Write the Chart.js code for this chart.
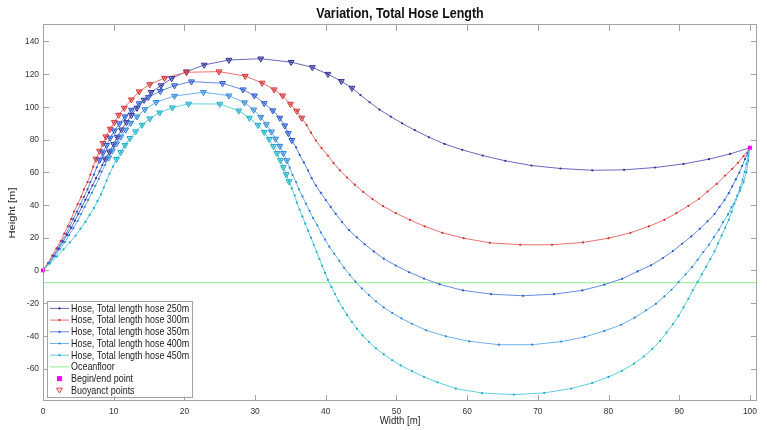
<!DOCTYPE html>
<html>
<head>
<meta charset="utf-8">
<title>Variation, Total Hose Length</title>
<script src="https://cdn.jsdelivr.net/npm/chart.js@4"></script>
<style>
  html, body { margin: 0; padding: 0; background: #ffffff; }
  #wrap { width: 767px; height: 430px; }
</style>
</head>
<body>
<div id="wrap"><canvas id="chart" width="767" height="430"></canvas></div>
<script>
// ---- data -------------------------------------------------------------
const chartTitle = 'Variation, Total Hose Length';
const xAxisTitle = 'Width [m]';
const yAxisTitle = 'Height [m]';
const xTickValues = [0, 10, 20, 30, 40, 50, 60, 70, 80, 90, 100];
const yTickValues = [-60, -40, -20, 0, 20, 40, 60, 80, 100, 120, 140];

const hoseLabels = [
  'Hose, Total length hose 250m',
  'Hose, Total length hose 300m',
  'Hose, Total length hose 350m',
  'Hose, Total length hose 400m',
  'Hose, Total length hose 450m'
];
const floorLabel = 'Oceanfloor';
const endsLabel = 'Begin/end point';
const buoyLabel = 'Buoyanct points';

// hose node positions [m]
const hose250X = [0,0.8,1.5,2.2,2.8,3.4,4.0,4.5,5.0,5.5, 6.0,6.5,7.0,7.5,8.0,8.4,8.8,9.4,10.0,10.5,
  11.1,11.8,12.5,13.3,14.3,15.3,16.7,18.2,20.3,22.8, 26.3,30.8,35.1,38.1,40.3,42.2,43.7,44.9,46.2,47.6,
  49.2,50.8,52.6,54.6,56.8,59.3,62.2,65.4,69.1,73.2, 77.7,82.2,86.6,90.6,94.2,97.2,100];
const hose250Y = [0,4.4,8.8,13.1,17.4,21.7,26.0,30.3,34.6,38.9, 43.2,47.6,52.0,56.4,60.6,64.4,68.2,72.6,77.1,81.6,
  86.0,90.5,94.9,99.3,104.2,108.9,113.0,117.4,121.5,125.6, 128.6,129.4,127.3,124.1,120.0,115.6,111.5,107.2,102.8,98.3,
  94.0,89.9,85.7,81.4,77.3,73.7,70.2,67.0,64.1,62.3, 61.2,61.5,62.9,65.1,68.0,71.2,75];

const hose300X = [0,0.7,1.3,1.9,2.5,3.0,3.5,4.0,4.4,4.9, 5.4,5.8,6.3,6.7,7.1,7.5,8.0,8.5,8.9,9.5,
  10.1,10.7,11.5,12.5,13.6,15.1,17.2,20.3,24.9,28.6, 31.0,32.7,33.9,35.0,35.9,36.6,37.3,37.9,38.6,39.4,
  40.3,41.1,42.0,43.0,44.1,45.3,46.6,48.1,49.9,51.9, 54.0,56.5,59.5,63.2,67.5,72.0,76.4,80.0,83.1,85.7,
  87.9,89.6,91.3,92.8,94.0,95.3,96.5,97.5,98.3,99.1, 100];
const hose300Y = [0,4.5,9.0,13.5,18.0,22.5,27.0,31.5,36.0,40.5, 45.0,49.5,54.0,58.5,63.4,68.2,73.0,77.7,81.8,86.5,
  90.5,95.0,99.3,104.4,109.3,113.7,117.6,121.1,121.5,118.8, 114.6,110.5,106.8,101.7,97.5,93.2,88.8,84.2,79.4,74.8,
  70.2,65.6,61.2,56.8,52.4,48.0,43.6,39.3,35.0,30.9, 26.9,23.0,19.7,16.9,15.7,15.7,17.1,19.7,23.0,26.9,
  30.9,35.0,39.5,43.8,48.2,52.9,58.0,62.1,65.8,69.8, 75];

const hose350X = [0,0.8,1.5,2.1,2.7,3.3,3.8,4.3,4.8,5.3, 5.8,6.3,6.7,7.2,7.6,8.0,8.5,9.0,9.5,10.1,
  10.8,11.6,12.5,13.6,14.9,16.6,18.6,21.0,25.4,28.3, 29.9,31.3,32.5,33.5,34.2,34.7,35.2,35.8,36.3,36.9,
  37.5,38.0,38.6,39.3,40.0,40.7,41.4,42.3,43.3,44.4, 45.5,46.8,48.2,49.9,51.8,53.9,56.1,59.4,63.4,67.9,
  72.3,76.3,79.4,81.9,84.1,86.0,87.7,89.1,90.4,91.7, 92.9,94.0,95.0,95.7,96.4,97.0,97.5,98.0,98.5,98.9,
  99.3,99.65,100];
const hose350Y = [0,4.5,9.0,13.5,18.0,22.5,27.0,31.5,36.0,40.5, 45.0,49.5,54.0,58.5,63.0,67.5,72.0,76.5,81.0,85.4,
  89.8,94.0,98.1,102.0,105.8,109.6,113.0,115.4,114.4,110.5, 106.8,102.1,97.7,93.2,88.5,83.8,79.6,75.2,70.6,66.0,
  61.0,56.4,51.9,47.4,43.0,38.8,34.6,29.6,24.6,20.2, 16.0,11.6,7.2,3.0,-1.1,-5.0,-8.5,-12.2,-14.5,-15.5,
  -14.5,-12.2,-8.7,-5.1,-0.6,3.1,7.6,11.8,16.3,20.8, 25.4,30.0,34.5,38.8,43.0,47.2,51.4,55.6,59.8,63.9,
  68.0,71.6,75];

const hose400X = [0,0.9,1.7,2.4,3.1,3.7,4.3,4.9,5.4,5.9, 6.4,6.9,7.4,7.9,8.3,8.8,9.3,9.8,10.4,11.0,
  11.7,12.4,13.3,14.4,16.0,18.6,22.7,26.3,28.5,29.8, 30.8,31.6,32.3,32.9,33.5,34.0,34.5,34.9,35.3,35.8,
  36.2,36.7,37.2,37.7,38.2,38.8,39.3,39.9,40.5,41.2, 41.9,42.6,43.4,44.2,45.1,46.1,47.1,48.2,49.4,50.7,
  52.2,54.2,57.0,60.3,64.5,69.2,73.3,76.6,79.4,81.8, 83.7,85.3,86.7,87.9,88.9,89.9,90.9,91.8,92.6,93.4,
  94.2,94.9,95.6,96.2,96.9,97.4,98.0,98.6,99.1,99.5, 99.75,100];
const hose400Y = [0,4.4,8.7,13.0,17.3,21.6,25.9,30.2,34.5,38.8, 43.1,47.4,51.7,56.0,60.3,64.6,68.9,73.2,77.5,81.7,
  85.9,90.0,94.0,98.4,102.8,106.6,108.9,106.8,102.6,98.2, 93.7,89.2,84.8,80.4,76.0,71.6,67.2,62.8,58.4,54.0,
  49.6,45.2,40.8,36.4,32.0,27.6,23.2,18.8,14.5,10.2, 5.9,1.6,-2.7,-6.9,-11.0,-15.0,-18.9,-22.6,-26.0,-29.3,
  -32.6,-36.6,-40.3,-43.3,-45.4,-45.4,-43.5,-40.7,-37.0,-33.2, -28.9,-24.4,-20.4,-15.9,-11.8,-7.1,-2.4,2.0,6.5,11.2,
  15.7,20.3,24.8,29.5,34.2,38.7,43.2,48.8,53.9,60.0, 67.0,75];

const hose450X = [0,1.0,2.0,2.9,3.8,4.6,5.3,6.0,6.6,7.2, 7.7,8.2,8.6,9.0,9.4,9.9,10.4,11.0,11.6,12.3,
  13.1,14.0,15.1,16.5,18.3,20.6,25.0,27.7,29.2,30.4, 31.3,32.0,32.6,33.1,33.6,34.0,34.4,34.8,35.2,35.6,
  35.9,36.3,36.7,37.1,37.5,37.9,38.3,38.7,39.1,39.5, 39.9,40.3,40.8,41.3,41.8,42.4,43.0,43.7,44.4,45.2,
  46.1,47.1,48.2,49.4,50.6,52.2,53.9,55.8,58.4,62.1, 66.6,70.9,74.7,77.7,80.0,81.9,83.6,85.0,86.2,87.3,
  88.2,89.1,89.9,90.6,91.3,91.9,92.6,93.2,93.8,94.4, 95.0,95.5,96.0,96.5,97.0,97.4,97.8,98.2,98.6,98.95,
  99.25,99.5,99.75,100];
const hose450Y = [0,4.3,8.6,12.9,17.1,21.3,25.5,29.7,33.9,38.1, 42.3,46.5,50.7,54.9,59.1,63.5,68.0,72.3,76.6,80.8,
  84.9,88.9,92.8,96.4,99.5,101.8,101.7,97.6,93.2,88.8, 84.5,80.2,75.9,71.6,67.3,63.0,58.7,54.4,50.1,45.8,
  41.5,37.2,32.9,28.6,24.3,20.0,15.7,11.4,7.1,2.8, -1.5,-5.8,-10.1,-14.4,-18.7,-23.0,-27.2,-31.4,-35.6,-39.7,
  -43.7,-47.6,-51.3,-54.9,-58.0,-61.6,-65.0,-68.4,-72.2,-74.9, -75.9,-74.9,-72.2,-68.8,-65.1,-61.3,-57.0,-52.6,-47.9,-43.0,
  -38.0,-32.9,-27.8,-22.6,-17.3,-12.1,-7.0,-2.4,2.2,6.9, 11.7,16.5,21.3,26.1,30.9,35.8,40.7,45.6,50.5,55.4,
  60.3,65.2,70.1,75];

// first and last node index carrying a buoyancy module
const buoy250 = [16, 36];
const buoy300 = [15, 35];
const buoy350 = [15, 36];
const buoy400 = [16, 36];
const buoy450 = [16, 37];

// sea bed level and hose end points
const floorX = [0, 101];
const floorY = [-7.5, -7.5];
const endsX = [0, 100];
const endsY = [0, 75];

// ---- styles -------------------------------------------------------------
const FONT = "'Liberation Sans', Arial, Helvetica, sans-serif";
const SX = 0.86;                       // horizontal squeeze of the lettering
const lineColors = ['rgb(105,105,190)', 'rgb(236,112,112)', 'rgb(100,140,225)', 'rgb(110,178,235)', 'rgb(95,208,225)'];
const dotColors  = ['rgb(45,45,150)',   'rgb(210,45,45)',   'rgb(35,85,205)',   'rgb(45,130,215)',  'rgb(25,170,200)'];
const fillColors = ['rgba(105,105,190,0.35)', 'rgba(236,112,112,0.35)', 'rgba(100,140,225,0.35)', 'rgba(110,178,235,0.35)', 'rgba(95,208,225,0.35)'];
const floorColor = 'rgb(140,240,140)';
const endColor = '#ff00ff';
const frameColor = '#a3a3a3';
const tickTextColor = '#333333';

// ---- datasets -----------------------------------------------------------
const toPoints = (xs, ys) => xs.map((x, i) => ({ x, y: ys[i] }));
const hoseX = [hose250X, hose300X, hose350X, hose400X, hose450X];
const hoseY = [hose250Y, hose300Y, hose350Y, hose400Y, hose450Y];
const buoyRanges = [buoy250, buoy300, buoy350, buoy400, buoy450];

const datasets = [];
hoseLabels.forEach((label, i) => {
  const pts = toPoints(hoseX[i], hoseY[i]);
  datasets.push({
    label,
    data: pts,
    showLine: true,
    borderColor: lineColors[i],
    borderWidth: 1,
    pointRadius: 1.1,
    pointBackgroundColor: dotColors[i],
    pointBorderWidth: 0,
    order: 20 - i
  });
  const [a, b] = buoyRanges[i];
  datasets.push({
    label: buoyLabel,
    data: pts.slice(a, b + 1),
    showLine: false,
    pointStyle: 'triangle',
    rotation: 180,
    pointRadius: 3.4,
    borderWidth: 1,
    pointBorderColor: dotColors[i],
    pointBackgroundColor: fillColors[i],
    order: 10 - i
  });
});
datasets.push({
  label: floorLabel,
  data: toPoints(floorX, floorY),
  showLine: true,
  borderColor: floorColor,
  borderWidth: 1,
  pointRadius: 0,
  order: 30
});
datasets.push({
  label: endsLabel,
  data: toPoints(endsX, endsY),
  showLine: false,
  pointStyle: 'rect',
  pointRadius: 2.8,
  pointBackgroundColor: endColor,
  pointBorderColor: endColor,
  borderWidth: 0,
  clip: false,
  order: 0
});

// ---- text helper --------------------------------------------------------
function narrowText(ctx, text, x, y, size, o) {
  ctx.save();
  ctx.translate(x, y);
  if (o.rotate) { ctx.rotate(o.rotate); ctx.scale(1, SX); } else { ctx.scale(SX, 1); }
  ctx.font = (o.bold ? 'bold ' : '') + size + 'px ' + FONT;
  ctx.textAlign = o.align || 'center';
  ctx.textBaseline = 'middle';
  ctx.fillStyle = o.color || '#000';
  ctx.fillText(text, 0, 0);
  ctx.restore();
}

// ---- plugins ------------------------------------------------------------
// axes box with inward ticks on all four sides, tick labels and axis titles
const framePlugin = {
  id: 'frame',
  afterDatasetsDraw(chart) {
    const { ctx, chartArea: a, scales } = chart;
    const len = 6;
    ctx.save();
    ctx.strokeStyle = frameColor;
    ctx.lineWidth = 1;
    ctx.beginPath();
    scales.x.ticks.forEach(t => {
      const px = Math.round(scales.x.getPixelForValue(t.value)) + 0.5;
      ctx.moveTo(px, a.bottom); ctx.lineTo(px, a.bottom - len);
      ctx.moveTo(px, a.top); ctx.lineTo(px, a.top + len);
    });
    scales.y.ticks.forEach(t => {
      const py = Math.round(scales.y.getPixelForValue(t.value)) + 0.5;
      ctx.moveTo(a.left, py); ctx.lineTo(a.left + len, py);
      ctx.moveTo(a.right, py); ctx.lineTo(a.right - len, py);
    });
    ctx.stroke();
    ctx.strokeRect(a.left + 0.5, a.top - 0.5, a.right - a.left - 1, a.bottom - a.top);
    ctx.restore();

    scales.x.ticks.forEach(t => {
      narrowText(ctx, String(t.value), scales.x.getPixelForValue(t.value), a.bottom + 10.5, 9.8, { color: tickTextColor });
    });
    scales.y.ticks.forEach(t => {
      narrowText(ctx, String(t.value), a.left - 4, scales.y.getPixelForValue(t.value), 9.8, { color: tickTextColor, align: 'right' });
    });
    narrowText(ctx, xAxisTitle, (a.left + a.right) / 2, 421, 11.2, { color: '#262626' });
    narrowText(ctx, yAxisTitle, 12, (a.top + a.bottom) / 2, 11.2, { color: '#262626', rotate: -Math.PI / 2 });
  }
};

// title centred over the plot box
const titlePlugin = {
  id: 'plotTitle',
  afterDraw(chart) {
    const a = chart.chartArea;
    narrowText(chart.ctx, chartTitle, (a.left + a.right) / 2, 14, 14.5, { bold: true, color: '#111111' });
  }
};

// boxed legend in the lower-left corner of the plot
const legendPlugin = {
  id: 'boxLegend',
  afterDraw(chart) {
    const { ctx, chartArea: a } = chart;
    const entries = hoseLabels.map((label, i) => ({ label, kind: 'hose', i }))
      .concat([{ label: floorLabel, kind: 'floor' }, { label: endsLabel, kind: 'ends' }, { label: buoyLabel, kind: 'buoy' }]);
    const rowH = 11.7, size = 10.4;
    ctx.save();
    ctx.font = size + 'px ' + FONT;
    const textW = SX * Math.max(...entries.map(e => ctx.measureText(e.label).width));
    const left = a.left + 4, bottom = a.bottom - 4.5;
    const width = 24 + textW + 3;
    const height = entries.length * rowH + 2;
    const top = bottom - height;
    ctx.fillStyle = '#ffffff';
    ctx.fillRect(left, top, width, height);
    ctx.strokeStyle = frameColor;
    ctx.lineWidth = 1;
    ctx.strokeRect(Math.round(left) + 0.5, Math.round(top) + 0.5, Math.round(width), Math.round(height));
    entries.forEach((e, k) => {
      const cy = top + 7.5 + k * rowH;
      const x1 = left + 3, x2 = left + 22, cx = (x1 + x2) / 2;
      if (e.kind === 'hose' || e.kind === 'floor') {
        ctx.strokeStyle = e.kind === 'hose' ? lineColors[e.i] : floorColor;
        ctx.beginPath(); ctx.moveTo(x1, cy); ctx.lineTo(x2, cy); ctx.stroke();
        if (e.kind === 'hose') {
          ctx.fillStyle = dotColors[e.i];
          ctx.beginPath(); ctx.arc(cx, cy, 1.1, 0, Math.PI * 2); ctx.fill();
        }
      } else if (e.kind === 'ends') {
        ctx.fillStyle = endColor;
        ctx.fillRect(cx - 2.5, cy - 2.5, 5, 5);
      } else {
        ctx.beginPath();
        ctx.moveTo(cx - 3, cy - 2.2); ctx.lineTo(cx + 3, cy - 2.2); ctx.lineTo(cx, cy + 2.8); ctx.closePath();
        ctx.fillStyle = 'rgba(236,112,112,0.3)'; ctx.fill();
        ctx.strokeStyle = 'rgb(225,80,80)'; ctx.stroke();
      }
      narrowText(ctx, e.label, left + 24, cy + 0.5, size, { align: 'left', color: '#1a1a1a' });
    });
    ctx.restore();
  }
};

// ---- chart --------------------------------------------------------------
Chart.defaults.font.family = FONT;

new Chart(document.getElementById('chart'), {
  type: 'scatter',
  data: { datasets },
  options: {
    responsive: false,
    animation: false,
    events: [],
    layout: { padding: { top: 25, right: 10, bottom: 0, left: 0 } },
    plugins: { legend: { display: false }, tooltip: { enabled: false }, title: { display: false } },
    scales: {
      x: {
        type: 'linear',
        min: 0,
        max: 101,
        afterBuildTicks: s => { s.ticks = xTickValues.map(v => ({ value: v })); },
        afterFit: s => { s.height = 29; },
        grid: { display: false, drawTicks: false },
        border: { display: false },
        ticks: { display: false },
        title: { display: false }
      },
      y: {
        type: 'linear',
        min: -79.8,
        max: 150,
        afterBuildTicks: s => { s.ticks = yTickValues.map(v => ({ value: v })); },
        afterFit: s => { s.width = 43; },
        grid: { display: false, drawTicks: false },
        border: { display: false },
        ticks: { display: false },
        title: { display: false }
      }
    }
  },
  plugins: [framePlugin, legendPlugin, titlePlugin]
});
</script>
</body>
</html>
